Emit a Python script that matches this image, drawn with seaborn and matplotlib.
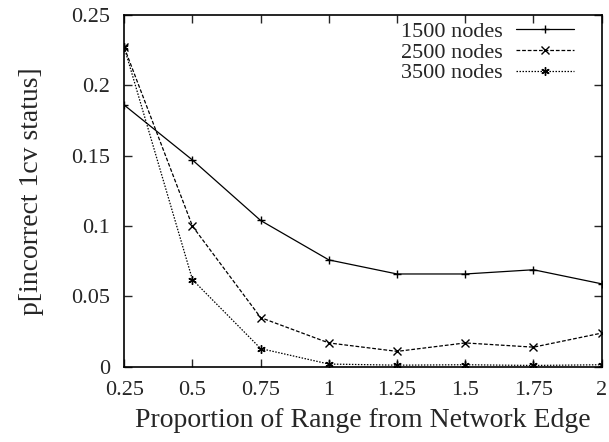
import pandas as pd
import matplotlib
matplotlib.use("Agg")
import matplotlib.pyplot as plt
import seaborn as sns

# values
x = [0.25, 0.5, 0.75, 1, 1.25, 1.5, 1.75, 2]
n1500 = [0.186, 0.147, 0.104, 0.076, 0.066, 0.066, 0.069, 0.059]
n2500 = [0.227, 0.100, 0.035, 0.017, 0.011, 0.017, 0.014, 0.024]
n3500 = [0.227, 0.062, 0.013, 0.002, 0.0012, 0.0015, 0.001, 0.0015]
labels = ["1500 nodes", "2500 nodes", "3500 nodes"]

df = pd.DataFrame({"x": x * 3,
                   "p": n1500 + n2500 + n3500,
                   "nodes": [labels[0]] * 8 + [labels[1]] * 8 + [labels[2]] * 8})

sns.set_style("ticks")
plt.rcParams["font.family"] = ["Liberation Serif", "DejaVu Serif"]

fig = plt.figure(figsize=(6.09, 4.42), dpi=100)
ax = fig.add_axes([0.204, 0.170, 0.784, 0.796])

styles = {labels[0]: ("-", "+"), labels[1]: ((0, (3, 1.5)), "x"), labels[2]: ((0, (1.2, 1.2)), (6, 2, 0))}
for lab in labels:
    d = df[df["nodes"] == lab]
    ls, mk = styles[lab]
    sns.lineplot(data=d, x="x", y="p", ax=ax, color="black", linewidth=0.9,
                 linestyle=ls, marker=mk, markersize=6, markeredgewidth=1.0,
                 markeredgecolor="black", label=lab)

ax.set_xlim(0.25, 2)
ax.set_ylim(0, 0.25)
ax.set_xticks(x)
ax.set_xticklabels(["0.25", "0.5", "0.75", "1", "1.25", "1.5", "1.75", "2"])
ax.set_yticks([0, 0.05, 0.1, 0.15, 0.2, 0.25])
ax.set_yticklabels(["0", "0.05", "0.1", "0.15", "0.2", "0.25"])
ax.tick_params(direction="in", top=True, right=True, labelsize=16, length=6, width=1)
ax.tick_params(axis="x", pad=10)
ax.tick_params(axis="y", pad=10)
for s in ax.spines.values():
    s.set_linewidth(1.2)
    s.set_color("black")

ax.set_xlabel("Proportion of Range from Network Edge", fontsize=20, labelpad=6)
ax.set_ylabel("p[incorrect 1cv status]", fontsize=20, labelpad=20)

ax.legend(loc="upper right", frameon=False, markerfirst=False, fontsize=16,
          handlelength=2.6, borderaxespad=0.0, borderpad=0.3, labelspacing=0.0,
          handletextpad=0.6, bbox_to_anchor=(0.955, 1.0))

fig.savefig("out.png", dpi=100)
